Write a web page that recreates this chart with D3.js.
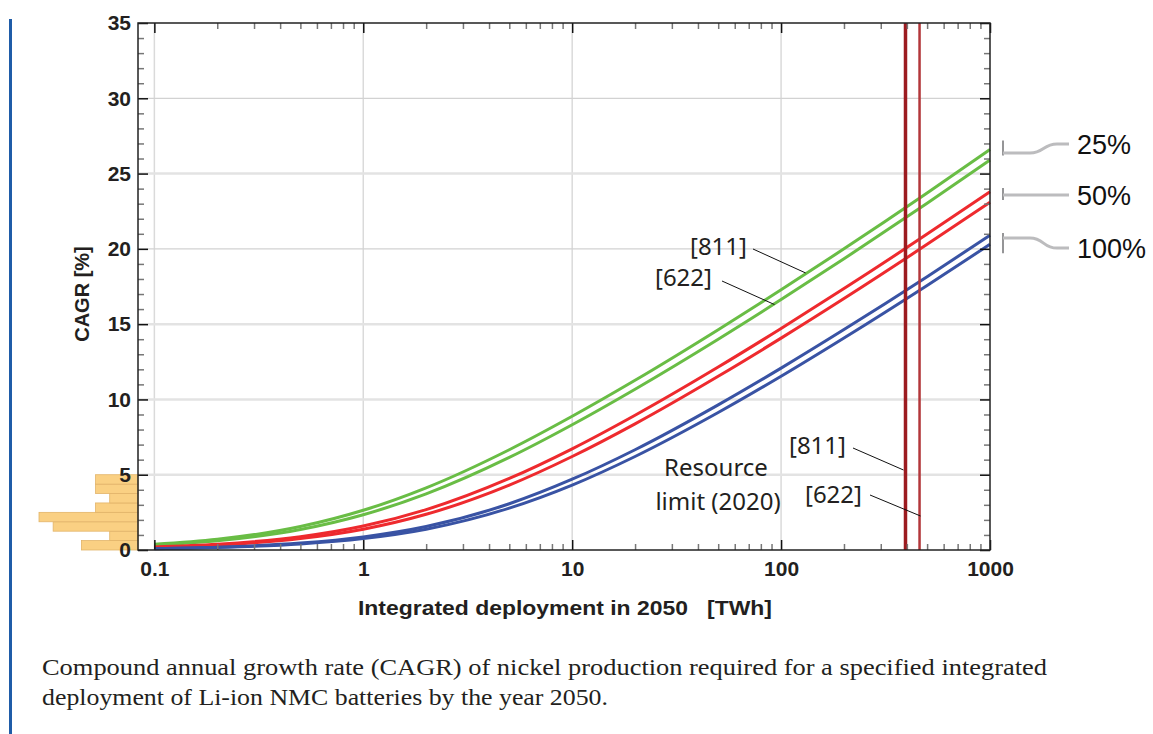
<!DOCTYPE html>
<html>
<head>
<meta charset="utf-8">
<script src="https://cdn.jsdelivr.net/npm/d3@7"></script>
<style>
body { margin: 0; background: #fff; }
svg { display: block; }
</style>
</head>
<body>
<div id="chart"></div>
<script>
var width = 1153;
var height = 734;

// deployment in TWh (x) and CAGR in % for each curve
var deployment = [0.1, 0.2, 0.5, 1, 2, 5, 10, 20, 50, 100, 200, 500, 1000];
var green811 = [0.38, 0.71, 1.56, 2.64, 4.13, 6.66, 8.88, 11.27, 14.63, 17.28, 20.0, 23.71, 26.6];
var green622 = [0.32, 0.61, 1.36, 2.34, 3.73, 6.15, 8.32, 10.68, 14.0, 16.63, 19.34, 23.03, 25.9];
var red811 = [0.20, 0.38, 0.88, 1.59, 2.68, 4.75, 6.72, 8.95, 12.15, 14.71, 17.36, 20.98, 23.8];
var red622 = [0.17, 0.32, 0.76, 1.38, 2.37, 4.31, 6.21, 8.38, 11.54, 14.07, 16.70, 20.30, 23.1];
var blue811 = [0.10, 0.19, 0.46, 0.87, 1.56, 3.07, 4.70, 6.66, 9.64, 12.08, 14.64, 18.15, 20.9];
var blue622 = [0.08, 0.17, 0.40, 0.76, 1.38, 2.78, 4.31, 6.21, 9.13, 11.54, 14.08, 17.57, 20.3];

// resource limits (2020) in TWh
var limitNames = ["[811]", "[622]"];
var limitValues = [394, 460];

// histogram along the y axis
var histEdges = [0, 0.625, 1.25, 1.875, 2.5, 3.125, 3.75, 4.375, 5];
var histCounts = [4, 2, 6, 7, 3, 2, 3, 3];

// recycling labels on the right
var recycleLabels = ["25%", "50%", "100%"];
var recycleBars = [[27.2, 26.2], [24.05, 23.25], [21.05, 19.7]];
var recycleFrom = [26.36, 23.57, 20.72];
var recycleTo = [26.96, 23.57, 20.05];

var xMajor = [0.1, 1, 10, 100, 1000];
var yMajor = [0, 5, 10, 15, 20, 25, 30, 35];

var pLeft = 138, pRight = 990, pTop = 23, pBottom = 550;

var xScale = d3.scaleLog().domain([0.0835, 1000]).range([pLeft, pRight]);
var yScale = d3.scaleLinear().domain([0, 35]).range([pBottom, pTop]);
var hScale = d3.scaleLinear().domain([0, 7]).range([pLeft, 39]);

var svg = d3.select("#chart")
    .append("svg")
    .attr("width", width)
    .attr("height", height);

// blue bar at the far left
svg.append("rect")
    .attr("x", 9).attr("y", 19)
    .attr("width", 3).attr("height", 715)
    .attr("fill", "#1f5ca8");

// grid
svg.append("g").selectAll("line")
    .data(xMajor.slice(0, 4))
    .enter().append("line")
    .attr("x1", function(d) { return xScale(d); })
    .attr("x2", function(d) { return xScale(d); })
    .attr("y1", pTop).attr("y2", pBottom)
    .attr("stroke", "#dadada").attr("stroke-width", 1.5);

svg.append("g").selectAll("line")
    .data([5, 10, 15, 20, 25, 30])
    .enter().append("line")
    .attr("x1", pLeft).attr("x2", pRight)
    .attr("y1", function(d) { return yScale(d); })
    .attr("y2", function(d) { return yScale(d); })
    .attr("stroke", function(d) { return d % 10 == 5 || d == 10 ? "#e3e3e3" : "#d2d2d2"; })
    .attr("stroke-width", function(d) { return d % 10 == 5 || d == 10 ? 2.5 : 1.2; });

// histogram
svg.append("g").selectAll("rect")
    .data(histCounts)
    .enter().append("rect")
    .attr("x", function(d) { return hScale(d); })
    .attr("y", function(d, i) { return yScale(histEdges[i + 1]); })
    .attr("width", function(d) { return pLeft - hScale(d); })
    .attr("height", function(d, i) { return yScale(histEdges[i]) - yScale(histEdges[i + 1]); })
    .attr("fill", "#fad083")
    .attr("stroke", "#e2b469")
    .attr("stroke-width", 0.8);

// curves
var series = [
    {vals: green811, color: "#69bd45"},
    {vals: green622, color: "#69bd45"},
    {vals: red811, color: "#ee2a2e"},
    {vals: red622, color: "#ee2a2e"},
    {vals: blue811, color: "#3953a4"},
    {vals: blue622, color: "#3953a4"}
];

var line = d3.line()
    .x(function(d) { return xScale(d[0]); })
    .y(function(d) { return yScale(d[1]); })
    .curve(d3.curveMonotoneX);

svg.append("g").selectAll("path")
    .data(series)
    .enter().append("path")
    .attr("d", function(s) { return line(deployment.map(function(x, i) { return [x, s.vals[i]]; })); })
    .attr("fill", "none")
    .attr("stroke", function(s) { return s.color; })
    .attr("stroke-width", 3);

// resource limit lines
svg.append("g").selectAll("line")
    .data(limitValues)
    .enter().append("line")
    .attr("x1", function(d) { return xScale(d); })
    .attr("x2", function(d) { return xScale(d); })
    .attr("y1", pTop).attr("y2", pBottom)
    .attr("stroke", function(d, i) { return i == 0 ? "#9c1b20" : "#b3373a"; })
    .attr("stroke-width", function(d, i) { return i == 0 ? 3.5 : 2.5; });

// minor ticks
var xMinor = xScale.ticks().filter(function(d) { return d >= 0.1 && xMajor.indexOf(d) < 0; });
var yMinor = d3.range(0, 36).filter(function(d) { return d % 5 != 0; });

function styleAxis(g, color) {
    g.select(".domain").remove();
    g.selectAll(".tick line").attr("stroke", color).attr("stroke-width", 1.5);
}

svg.append("g").attr("transform", "translate(0," + pBottom + ")")
    .call(d3.axisBottom(xScale).tickValues(xMinor).tickSize(-6).tickFormat(""))
    .call(styleAxis, "#777");
svg.append("g").attr("transform", "translate(0," + pTop + ")")
    .call(d3.axisTop(xScale).tickValues(xMinor).tickSize(-6).tickFormat(""))
    .call(styleAxis, "#777");
svg.append("g").attr("transform", "translate(" + pLeft + ",0)")
    .call(d3.axisLeft(yScale).tickValues(yMinor).tickSize(-6).tickFormat(""))
    .call(styleAxis, "#777");
svg.append("g").attr("transform", "translate(" + pRight + ",0)")
    .call(d3.axisRight(yScale).tickValues(yMinor).tickSize(-6).tickFormat(""))
    .call(styleAxis, "#777");

// major ticks + labels
svg.append("g").attr("class", "lab").attr("transform", "translate(0," + pBottom + ")")
    .call(d3.axisBottom(xScale).tickValues(xMajor).tickSize(-10).tickPadding(11)
        .tickFormat(function(d) { return d < 1 ? "0.1" : d3.format("d")(d); }))
    .call(styleAxis, "#111");
svg.append("g").attr("transform", "translate(0," + pTop + ")")
    .call(d3.axisTop(xScale).tickValues(xMajor).tickSize(-10).tickFormat(""))
    .call(styleAxis, "#111");
svg.append("g").attr("class", "lab").attr("transform", "translate(" + pLeft + ",0)")
    .call(d3.axisLeft(yScale).tickValues(yMajor).tickSize(-10).tickPadding(7))
    .call(styleAxis, "#111");
svg.append("g").attr("transform", "translate(" + pRight + ",0)")
    .call(d3.axisRight(yScale).tickValues(yMajor).tickSize(-10).tickFormat(""))
    .call(styleAxis, "#111");

svg.selectAll(".lab .tick text")
    .attr("fill", "#231f20")
    .style("font-family", "'Liberation Sans', Arial, sans-serif")
    .style("font-weight", "bold")
    .style("font-size", "21px");

// frame
svg.append("rect")
    .attr("x", pLeft).attr("y", pTop)
    .attr("width", pRight - pLeft).attr("height", pBottom - pTop)
    .attr("fill", "none")
    .attr("stroke", "#222")
    .attr("stroke-width", 1.5);

// axis titles
svg.append("text")
    .attr("x", 358).attr("y", 615)
    .attr("textLength", 414)
    .attr("lengthAdjust", "spacingAndGlyphs")
    .style("white-space", "pre")
    .style("font-family", "'Liberation Sans', Arial, sans-serif")
    .style("font-weight", "bold")
    .style("font-size", "20px")
    .attr("fill", "#231f20")
    .text("Integrated deployment in 2050   [TWh]");

svg.append("text")
    .attr("transform", "translate(89,294) rotate(-90)")
    .attr("text-anchor", "middle")
    .style("font-family", "'Liberation Sans', Arial, sans-serif")
    .style("font-weight", "bold")
    .style("font-size", "20px")
    .attr("fill", "#231f20")
    .text("CAGR [%]");

// annotations
var annFont = "'Noto Sans', 'Open Sans', sans-serif";
function annotate(label, tx, ty, x1, y1, x2, y2) {
    svg.append("text")
        .attr("x", tx).attr("y", ty)
        .style("font-family", annFont)
        .style("font-size", "24px")
        .attr("fill", "#231f20")
        .text(label);
    svg.append("line")
        .attr("x1", x1).attr("y1", y1)
        .attr("x2", x2).attr("y2", y2)
        .attr("stroke", "#111").attr("stroke-width", 1);
}
annotate("[811]", 690, 255, 753, 249, xScale(131), yScale(18.4));
annotate("[622]", 655, 286, 722, 281, xScale(93), yScale(16.3));
annotate(limitNames[0], 789, 454, 853, 448, xScale(limitValues[0]) - 2, 470);
annotate(limitNames[1], 805, 503, 870, 495, xScale(limitValues[1]) + 1, 516);

svg.append("text")
    .attr("x", 716).attr("y", 476)
    .attr("text-anchor", "middle")
    .style("font-family", annFont)
    .style("font-size", "24px")
    .attr("fill", "#231f20")
    .text("Resource");
svg.append("text")
    .attr("x", 718).attr("y", 510)
    .attr("text-anchor", "middle")
    .style("font-family", annFont)
    .style("font-size", "24px")
    .attr("fill", "#231f20")
    .text("limit (2020)");

// recycling rate labels
var rec = svg.append("g");
recycleLabels.forEach(function(lbl, i) {
    var y1 = yScale(recycleFrom[i]), y2 = yScale(recycleTo[i]);
    rec.append("line")
        .attr("x1", 1003).attr("x2", 1003)
        .attr("y1", yScale(recycleBars[i][0])).attr("y2", yScale(recycleBars[i][1]))
        .attr("stroke", "#8a8a8c").attr("stroke-width", 1.8);
    rec.append("path")
        .attr("d", "M1003," + y1 + " H1030 C1044," + y1 + " 1043," + y2 + " 1057," + y2 + " H1069")
        .attr("fill", "none")
        .attr("stroke", "#bcbcbe")
        .attr("stroke-width", 3);
    rec.append("text")
        .attr("x", 1077).attr("y", y2)
        .attr("dy", "0.36em")
        .style("font-family", "'Liberation Sans', Arial, sans-serif")
        .style("font-size", "27px")
        .attr("fill", "#111")
        .text(lbl);
});

// caption
var caption = [
    "Compound annual growth rate (CAGR) of nickel production required for a specified integrated",
    "deployment of Li-ion NMC batteries by the year 2050."
];
var captionWidth = [1005, 566];
svg.append("g").selectAll("text")
    .data(caption)
    .enter().append("text")
    .attr("x", 42)
    .attr("y", function(d, i) { return 675 + i * 30; })
    .attr("textLength", function(d, i) { return captionWidth[i]; })
    .attr("lengthAdjust", "spacingAndGlyphs")
    .style("font-family", "'Liberation Serif', 'Times New Roman', serif")
    .style("font-size", "24px")
    .attr("fill", "#231f20")
    .text(function(d) { return d; });
</script>
</body>
</html>
